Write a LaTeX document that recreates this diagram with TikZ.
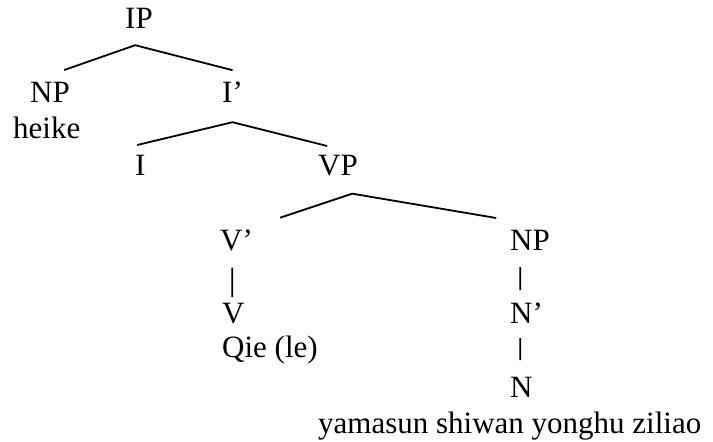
\documentclass[tikz,border=0pt]{standalone}
\usepackage{fontspec}
\setmainfont{Liberation Serif}
\tikzset{cat/.style={anchor=base west,inner sep=0pt,font=\fontsize{31}{36}\selectfont}}
\tikzset{br/.style={line width=1.8pt}}

\begin{document}
\begin{tikzpicture}[x=1pt,y=-1pt]
\useasboundingbox (0,0) rectangle (713,442);

% categories
\node[cat] (IP) at (125,28) {IP};
\node[cat] (NP) at (30,102) {NP};
\node[cat] (heike) at (13,138) {heike};
\node[cat] (Ibar) at (222,102) {I’};
\node[cat] (I) at (135,175) {I};
\node[cat] (VP) at (318,175) {VP};
\node[cat] (Vbar) at (220,250) {V’};
\node[cat] (NPobj) at (510,250) {NP};
\node[cat] (V) at (222,323) {V};
\node[cat] (qie) at (222,357) {Qie (le)};
\node[cat] (Nbar) at (510,323) {N’};
\node[cat] (N) at (510,397) {N};
\node[cat] (ziliao) at (318,433) {yamasun shiwan yonghu ziliao};

% branches
\draw[br] ([xshift=14.2pt,yshift=11.5pt]NP.north) -- ([xshift=-3.8pt,yshift=-17pt]IP.south)
  -- ([yshift=11pt]Ibar.north);
\draw[br] ([xshift=-3.2pt,yshift=9.5pt]I.north) -- ([yshift=-20pt]Ibar.south)
  -- ([xshift=-10.8pt,yshift=8.5pt]VP.north);
\draw[br] ([xshift=43.6pt,yshift=11.5pt]Vbar.north) -- ([xshift=14.2pt,yshift=-18pt]VP.south)
  -- ([xshift=-33.8pt,yshift=11.5pt]NPobj.north);
\draw[br] ([xshift=-4.4pt,yshift=-17pt]Vbar.south) -- ([xshift=-1.2pt,yshift=5.5pt]V.north);
\draw[br] ([xshift=-9.8pt,yshift=-17pt]NPobj.south) -- ([xshift=-6.4pt,yshift=12pt]Nbar.north);
\draw[br] ([xshift=-6.4pt,yshift=-15pt]Nbar.south) -- ([xshift=-1.2pt,yshift=16.5pt]N.north);
\end{tikzpicture}
\end{document}
